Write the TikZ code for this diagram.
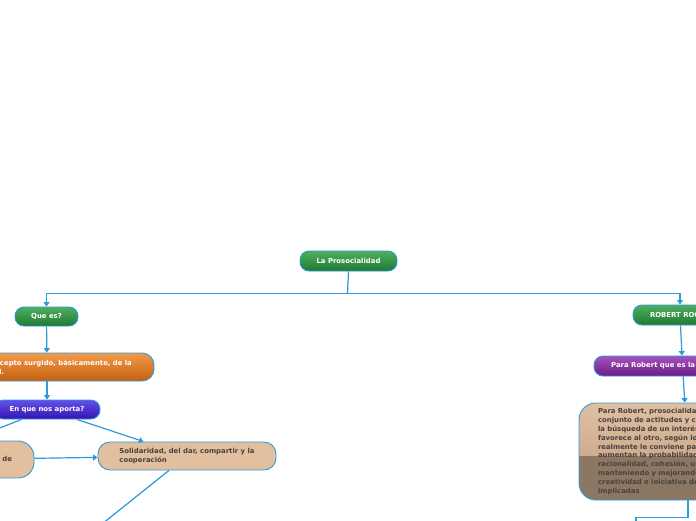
\documentclass[tikz,border=0pt]{standalone}
\usepackage{fontspec}
\newfontfamily\dvs{DejaVu Sans}
\usetikzlibrary{arrows.meta}
\definecolor{edge}{HTML}{2C9ADB}
\definecolor{gtop}{HTML}{4FAE5E}
\definecolor{gbot}{HTML}{1E7A31}
\definecolor{otop}{HTML}{F29A48}
\definecolor{obot}{HTML}{C4600F}
\definecolor{btop}{HTML}{6450EA}
\definecolor{bbot}{HTML}{3414B2}
\definecolor{ptop}{HTML}{A552BC}
\definecolor{pbot}{HTML}{6C1C86}
\definecolor{tanfill}{HTML}{E2BF9F}
\definecolor{tantop}{HTML}{E0C0A3}
\definecolor{tanbot}{HTML}{BE9B7E}
\definecolor{brownd}{HTML}{8C7764}
\definecolor{txtd}{HTML}{4A423C}
\tikzset{
  base/.style={draw=edge, line width=0.9pt, font=\dvs\bfseries\fontsize{6.9}{8.8}\selectfont, inner sep=0pt},
  pill/.style={base, rounded corners=9pt, text=white, minimum height=20pt},
  gnode/.style={pill, top color=gtop, bottom color=gbot},
  onode/.style={pill, rounded corners=12pt, top color=otop, bottom color=obot, minimum height=28pt},
  bnode/.style={pill, top color=btop, bottom color=bbot},
  pnode/.style={pill, top color=ptop, bottom color=pbot},
  tnode/.style={base, rounded corners=14pt, fill=tanfill, text=txtd},
  bigbox/.style={base, rounded corners=17pt, top color=tantop, bottom color=tanbot, text=txtd,
    align=left, text width=180pt, inner xsep=19pt, minimum height=97pt,
    path picture={\fill[brownd, sharp corners] ([yshift=-4.5pt]path picture bounding box.west) rectangle (path picture bounding box.south east);}},
  conn/.style={draw=edge, line width=1.2pt},
  arr/.style={conn, -{Triangle[width=6pt,length=4.5pt]}},
}
\begin{document}
\begin{tikzpicture}[x=1pt,y=-1pt]
\useasboundingbox (0,0) rectangle (696,520);
\fill[white] (0,0) rectangle (696,520);
\clip (0,0) rectangle (696,520);
% nodes
\node[gnode, minimum width=97pt] (root) at (348.5,261) {La Prosocialidad};
\node[gnode, minimum width=63pt, minimum height=19pt] (quees) at (46.5,316.5) {Que es?};
\node[onode, align=left, text width=168pt, inner xsep=23pt] (orange) at (47,367)
  {\mbox{Es un concepto surgido, básicamente, de la}\\la bondad.};
\node[bnode, minimum width=106pt, minimum height=19pt] (enque) at (47,409.5) {En que nos aporta?};
\node[tnode, align=right, text width=110pt, inner xsep=22pt, minimum height=37pt, rounded corners=16pt] (lefttan) at (-43,459.5)
  {Empatía y valores de};
\node[tnode, align=left, minimum width=178pt, minimum height=28pt, rounded corners=12pt] (solid) at (187,456)
  {Solidaridad, del dar, compartir y la\\cooperación};
\node[gnode, minimum width=94pt] (robert) at (680,315) {ROBERT ROCHE};
\node[pnode, minimum width=177pt] (pararob) at (682.5,366) {Para Robert que es la prosocialidad?};
\node[bigbox] (big) at (688,451.5)
  {Para Robert, prosocialidad es aquel\\
   conjunto de actitudes y comportamientos\\
   la búsqueda de un interés propio, que\\
   favorece al otro, según los criterios\\
   realmente le conviene para su bien, y que\\
   aumentan la probabilidad de una\\
   racionalidad, cohesión, unidad y\\
   manteniendo y mejorando la identidad,\\
   creatividad e iniciativa de las personas\\
   implicadas};
% coordinates
\coordinate (j) at (347.5,293.5);
\coordinate (offl) at (-100,467);
\coordinate (offb) at (37,576);
\coordinate (b1) at (636,517.5);
\coordinate (b2) at (636,560);
% connectors
\draw[conn] (root.south) -- (j);
\draw[arr] (j) -| (quees);
\draw[arr] (j) -| (robert);
\draw[arr] (quees) -- (orange);
\draw[arr] (orange) -- (enque);
\draw[arr] (enque) -- (offl);
\draw[arr] (enque) -- (solid);
\draw[arr] (lefttan) -- (solid);
\draw[arr] (solid) -- (offb);
\draw[arr] (robert) -- (pararob);
\draw[arr] (pararob) -- (big);
\draw[arr] (big.south) |- (b1) -- (b2);
\end{tikzpicture}
\end{document}
